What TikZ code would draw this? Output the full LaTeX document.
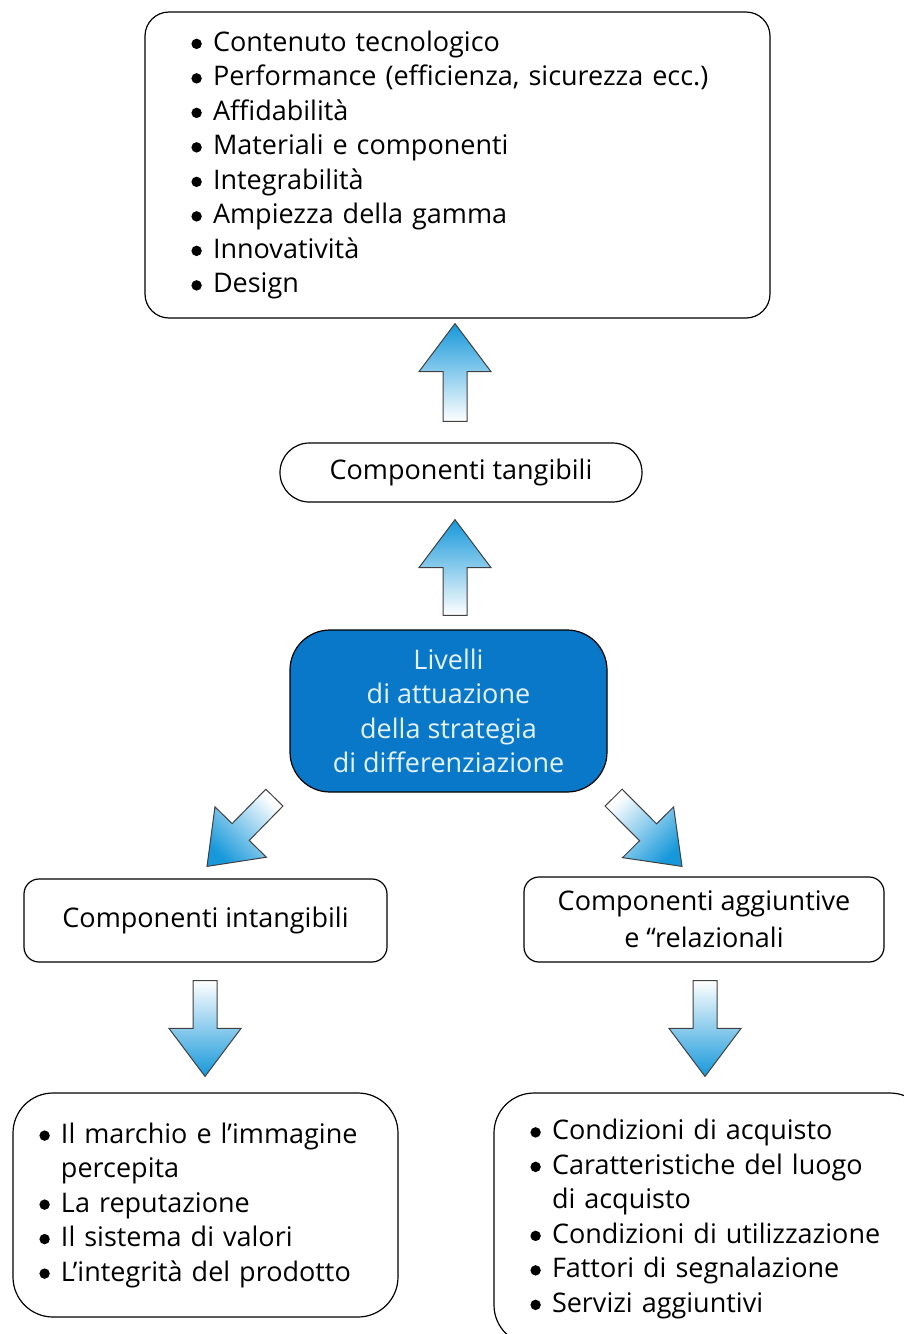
\documentclass[tikz,border=0pt]{standalone}
\usepackage{fontspec}
\setmainfont{Open Sans}
\usetikzlibrary{calc}
\definecolor{arrowblue}{RGB}{22,152,218}
\definecolor{levelblue}{RGB}{10,120,200}
\definecolor{levelfont}{RGB}{228,242,252}
\newcommand\bul{\makebox[9pt][l]{\hspace*{-1.8pt}\tikz[baseline=-3.7pt]\fill (0,0) circle (2.6pt);}}
\tikzset{
	box/.style={draw=black, line width=0.6pt, fill=white, inner sep=0pt,
		font=\fontsize{13.5}{17.25}\selectfont},
	listbox/.style={box, align=left},
	bigarrow/.style={draw=black!75, line width=0.5pt, top color=arrowblue, bottom color=white}
}
\newcommand\bigarrow[3]{%
	\path[bigarrow, shading angle=#3] let \p1=(#1), \p2=(#2),
		\n1={atan2(\y2-\y1,\x2-\x1)}, \n2={veclen(\x2-\x1,\y2-\y1)-24pt} in
		($(\p1)+({\n1+90}:6pt)$)
		-- ($(\p1)+(\n1:\n2)+({\n1+90}:6pt)$)
		-- ($(\p1)+(\n1:\n2)+({\n1+90}:18pt)$)
		-- (\p2)
		-- ($(\p1)+(\n1:\n2)+({\n1-90}:18pt)$)
		-- ($(\p1)+(\n1:\n2)+({\n1-90}:6pt)$)
		-- ($(\p1)+({\n1-90}:6pt)$) -- cycle;}
\begin{document}
\begin{tikzpicture}[x=0.5pt, y=0.5pt]
	\useasboundingbox (0,0) rectangle (904,-1334);
	\clip (0,0) rectangle (904,-1334);

	\node[listbox, minimum width=312.5pt, minimum height=153pt, text width=262.5pt,
		rounded corners=12pt] (top) at (457.5,-165)
		{\bul Contenuto tecnologico\\
		 \bul Performance (efficienza, sicurezza ecc.)\\
		 \bul Affidabilità\\
		 \bul Materiali e componenti\\
		 \bul Integrabilità\\
		 \bul Ampiezza della gamma\\
		 \bul Innovatività\\
		 \bul Design};
	\node[box, minimum width=181pt, minimum height=29.5pt, rounded corners=14.7pt]
		(tang) at (461,-472.5) {Componenti tangibili};
	\node[box, fill=levelblue, text=levelfont, align=center, minimum width=158.5pt,
		minimum height=81pt, rounded corners=20pt] (liv) at (448.5,-711)
		{Livelli\\di attuazione\\della strategia\\di differenziazione};
	\node[box, minimum width=181.5pt, minimum height=41.5pt, rounded corners=7.5pt]
		(intang) at (205.5,-920.5) {Componenti intangibili};
	\node[box, align=center, minimum width=180pt, minimum height=42.5pt, rounded corners=7.5pt,
		font=\fontsize{13.5}{18.5}\selectfont] (aggiunt) at (704,-919.5)
		{Componenti aggiuntive\\e “relazionali};
	\node[listbox, minimum width=192.5pt, minimum height=112pt, text width=162.5pt,
		rounded corners=20pt] (intlist) at (205.5,-1205)
		{\bul Il marchio e l’immagine\\
		 \hspace*{9pt}percepita\\
		 \bul La reputazione\\
		 \bul Il sistema di valori\\
		 \bul L’integrità del prodotto};
	\node[listbox, minimum width=218pt, minimum height=126pt, text width=178pt,
		rounded corners=20pt] (agglist) at (712,-1219)
		{\bul Condizioni di acquisto\\
		 \bul Caratteristiche del luogo\\
		 \hspace*{9pt}di acquisto\\
		 \bul Condizioni di utilizzazione\\
		 \bul Fattori di segnalazione\\
		 \bul Servizi aggiuntivi};

	\bigarrow{$(tang.north)+(-6,21)$}{$(top.south)+(-2.5,-5)$}{0}
	\bigarrow{$(liv.north)+(6.5,14)$}{$(tang.south)+(-6,-17)$}{0}
	\bigarrow{$(liv.south west)+(-15,-5)$}{$(intang.north)+(1.5,12)$}{135}
	\bigarrow{$(liv.south east)+(6,-5)$}{$(aggiunt.north)+(-22,10)$}{225}
	\bigarrow{$(intang.south)+(-0.5,-18)$}{$(intlist.north)+(-0.5,16)$}{180}
	\bigarrow{$(aggiunt.south)+(1,-18)$}{$(agglist.north)+(-7,16)$}{180}
\end{tikzpicture}
\end{document}
